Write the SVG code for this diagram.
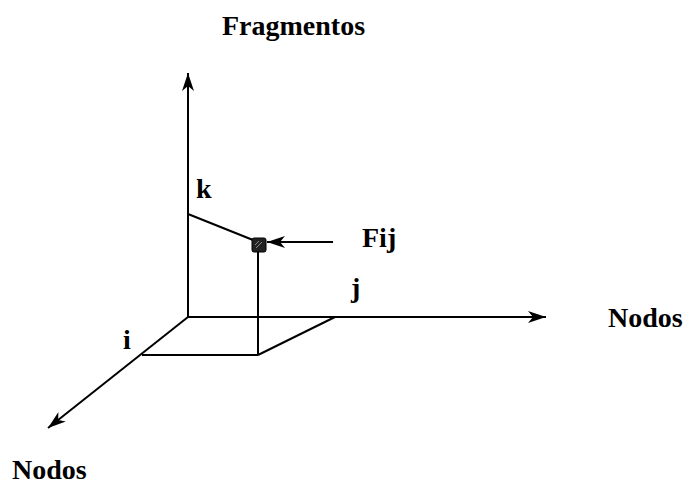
<svg xmlns="http://www.w3.org/2000/svg" width="687" height="485" viewBox="0 0 687 485">
<style>
text{font-family:'Liberation Serif','Times New Roman',serif;font-weight:bold;font-size:28px;fill:#000}
.ln{stroke:#000;stroke-width:2;fill:none}
</style>
<defs>
<marker id="ah" viewBox="0 0 18 12" refX="18" refY="6" markerWidth="18" markerHeight="12" markerUnits="userSpaceOnUse" orient="auto">
<path d="M0,0 L18,6 L0,12 L5,6 Z" fill="#000"/>
</marker>
</defs>
<g id="connectors">
<line class="ln" x1="188" y1="317" x2="188" y2="73" marker-end="url(#ah)"/>
<line class="ln" x1="188" y1="317" x2="546" y2="317" marker-end="url(#ah)"/>
<line class="ln" x1="188" y1="317" x2="48" y2="428" marker-end="url(#ah)"/>
<line class="ln" x1="142" y1="355" x2="258" y2="355"/>
<line class="ln" x1="258" y1="355" x2="335" y2="317"/>
<line class="ln" x1="258" y1="355" x2="258" y2="250"/>
<line class="ln" x1="188" y1="214" x2="253" y2="240"/>
<line class="ln" x1="333" y1="242" x2="267" y2="242" marker-end="url(#ah)"/>
</g>
<g id="fij-point">
<rect x="252" y="238" width="14" height="14" rx="2" fill="#222" stroke="#000" stroke-width="1"/>
<path d="M256,248 L262,242 M255,245 L259,241" stroke="#888" stroke-width="1"/>
</g>
<g id="labels">
<text x="222" y="35">Fragmentos</text>
<text x="608" y="327">Nodos</text>
<text x="12" y="479">Nodos</text>
<text x="196" y="198">k</text>
<text x="362" y="247">Fij</text>
<text x="351" y="297">j</text>
<text x="123" y="349">i</text>
</g>
</svg>
